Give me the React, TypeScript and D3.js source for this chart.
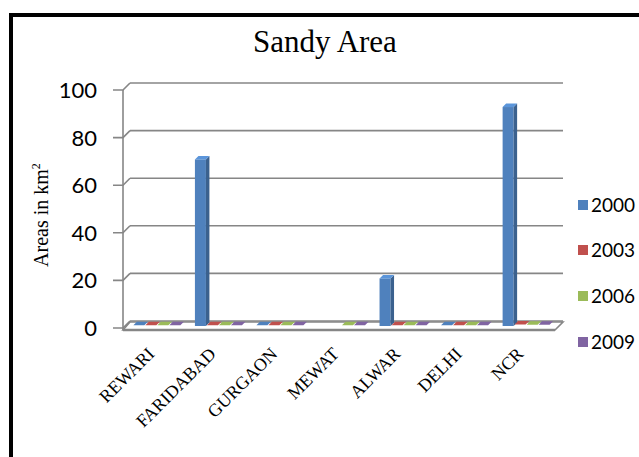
import React from "react";
import * as d3 from "d3";

const categories = ["REWARI", "FARIDABAD", "GURGAON", "MEWAT", "ALWAR", "DELHI", "NCR"];
const seriesNames = ["2000", "2003", "2006", "2009"];
const values2000 = [0.3, 70, 0.3, null, 20, 0.3, 92];
const values2003 = [0.3, 0.3, 0.3, null, 0.3, 0.3, 0.6];
const values2006 = [0.3, 0.3, 0.3, 0.3, 0.3, 0.3, 0.5];
const values2009 = [0.3, 0.3, 0.3, 0.3, 0.3, 0.3, 0.5];
const yTicks = [0, 20, 40, 60, 80, 100];
const colors = ["#4F81BD", "#C0504D", "#9BBB59", "#8064A2"];

const W = 639;
const H = 457;

export default function App() {
  const series = [values2000, values2003, values2006, values2009];
  const left = 123;
  const right = 555;
  const y = d3.scaleLinear().domain([0, 100]).range([328, 90]);
  const x0 = d3.scaleBand<string>().domain(categories).range([left, right]).paddingInner(0.22).paddingOuter(0.12);
  const x1 = d3.scaleBand<string>().domain(seriesNames).range([0, x0.bandwidth()]);
  const wallD = 7; // wall depth offset
  const shiftX = 3; // bar front offset into depth
  const shiftY = 2;
  const barD = 3.5; // bar depth
  const w = x1.bandwidth() - 1;

  const bars: any[] = [];
  categories.forEach((c, ci) => {
    seriesNames.forEach((s, si) => {
      const v = series[si][ci];
      if (v === null || v === undefined) return;
      const xf = (x0(c) as number) + (x1(s) as number) + shiftX;
      const yb = y(0) - shiftY;
      const yt = y(v) - shiftY;
      const col = colors[si];
      const dark = d3.color(col)!.darker(0.8).formatHex();
      const light = d3.color(col)!.brighter(0.4).formatHex();
      const tall = yb - yt > 1.5;
      bars.push(
        <g key={c + s}>
          {tall && <rect x={xf} y={yt} width={w} height={yb - yt} fill={col} />}
          {tall && (
            <polygon
              points={`${xf + w},${yt} ${xf + w + barD},${yt - barD} ${xf + w + barD},${yb - barD} ${xf + w},${yb}`}
              fill={dark}
            />
          )}
          <polygon
            points={`${xf},${yt} ${xf + w},${yt} ${xf + w + barD},${yt - barD} ${xf + barD},${yt - barD}`}
            fill={tall ? light : col}
          />
        </g>
      );
    });
  });

  const legendY = [205, 250, 296, 342];

  return (
    <svg
      width={W}
      height={H}
      style={{ position: "absolute", left: 0, top: 0, display: "block", background: "#fff" }}
    >
      <rect x={11} y={15} width={700} height={500} fill="#fff" stroke="#000" strokeWidth={4} />
      <text
        x={325}
        y={52}
        textAnchor="middle"
        fontFamily="Liberation Serif"
        fontSize={31}
        fill="#000"
      >
        Sandy Area
      </text>
      {/* gridlines and ticks */}
      {yTicks.map((t) => (
        <g key={t}>
          <line x1={left + wallD} x2={right + wallD + 1} y1={y(t) - wallD} y2={y(t) - wallD} stroke="#868686" strokeWidth={1.6} />
          <polyline points={`${left - 10},${y(t)} ${left},${y(t)} ${left + wallD},${y(t) - wallD}`} fill="none" stroke="#868686" strokeWidth={1.6} />
          <text x={97} y={y(t) + 8} textAnchor="end" fontFamily="Lato" fontSize={22} fill="#000">
            {t}
          </text>
        </g>
      ))}
      <line x1={left} x2={left} y1={y(100)} y2={y(0) + 2} stroke="#868686" strokeWidth={1.6} />
      {/* floor */}
      <polygon
        points={`${left},${y(0) + 2} ${right},${y(0) + 2} ${right + wallD + 1},${y(0) - wallD + 1} ${left + wallD},${y(0) - wallD + 1}`}
        fill="#fff"
        stroke="#868686"
        strokeWidth={1.6}
      />
      <line x1={left} x2={right} y1={y(0) + 2} y2={y(0) + 2} stroke="#868686" strokeWidth={2.5} />
      {bars}
      {/* y axis title */}
      <text
        transform={`translate(48,215) rotate(-90)`}
        textAnchor="middle"
        fontFamily="Liberation Serif"
        fontSize={20}
        fill="#000"
      >
        Areas in km<tspan fontSize={12} dy={-8}>2</tspan>
      </text>
      {/* x labels */}
      {categories.map((c) => {
        const cx = (x0(c) as number) + x0.bandwidth() / 2 + 1;
        return (
          <text
            key={c}
            transform={`translate(${cx},355) rotate(-45)`}
            textAnchor="end"
            fontFamily="Liberation Serif"
            fontSize={18}
            fill="#000"
          >
            {c}
          </text>
        );
      })}
      {/* legend */}
      {seriesNames.map((s, i) => (
        <g key={s}>
          <rect x={578} y={legendY[i] - 5} width={10} height={10} fill={colors[i]} />
          <text x={591} y={legendY[i] + 7} fontFamily="Lato" fontSize={19} fill="#000">
            {s}
          </text>
        </g>
      ))}
    </svg>
  );
}
